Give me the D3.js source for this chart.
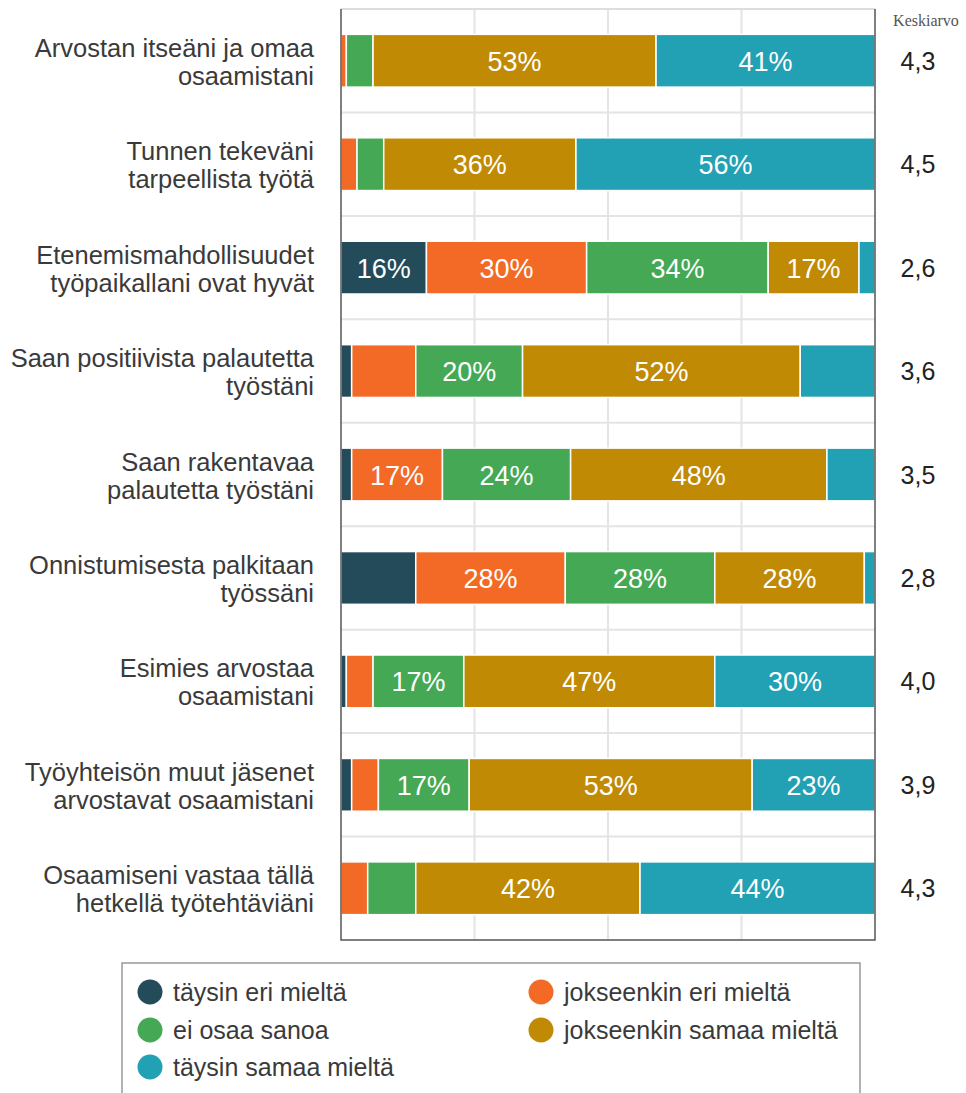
<!DOCTYPE html>
<html>
<meta charset="UTF-8">
<style>
body { margin: 0; background: #fff; }
svg { font-family: Arial, "Liberation Sans", sans-serif; }
.cat { fill: #3a3a3a; font-size: 25.5px; }
.pct { fill: #fff; font-size: 27px; }
.mean { fill: #222; font-size: 25px; }
.leg { fill: #3a3a3a; font-size: 25px; }
</style>
<body>
<svg width="966" height="1093"></svg>
<script src="https://d3js.org/d3.v7.min.js"></script>
<script>
//	data
var questions = [
	["Arvostan itseäni ja omaa", "osaamistani"],
	["Tunnen tekeväni", "tarpeellista työtä"],
	["Etenemismahdollisuudet", "työpaikallani ovat hyvät"],
	["Saan positiivista palautetta", "työstäni"],
	["Saan rakentavaa", "palautetta työstäni"],
	["Onnistumisesta palkitaan", "työssäni"],
	["Esimies arvostaa", "osaamistani"],
	["Työyhteisön muut jäsenet", "arvostavat osaamistani"],
	["Osaamiseni vastaa tällä", "hetkellä työtehtäviäni"]
];
var answers = ["täysin eri mieltä", "jokseenkin eri mieltä", "ei osaa sanoa",
	"jokseenkin samaa mieltä", "täysin samaa mieltä"];
var colors = ["#234b5a", "#f26a25", "#44a854", "#c08a04", "#22a0b4"];

var taysinEri    = [0, 0, 16, 2, 2, 14, 1, 2, 0];
var jokseenEri   = [1, 3, 30, 12, 17, 28, 5, 5, 5];
var eiOsaa       = [5, 5, 34, 20, 24, 28, 17, 17, 9];
var jokseenSamaa = [53, 36, 17, 52, 48, 28, 47, 53, 42];
var taysinSamaa  = [41, 56, 3, 14, 9, 2, 30, 23, 44];
var means = ["4,3", "4,5", "2,6", "3,6", "3,5", "2,8", "4,0", "3,9", "4,3"];
var xTicks = [25, 50, 75];

var series = [taysinEri, jokseenEri, eiOsaa, jokseenSamaa, taysinSamaa];

//	svg and sizing
var svg = d3.select("svg");
var plotLeft = 341, plotRight = 875, plotTop = 9, plotBottom = 940;

var x = d3.scaleLinear().domain([0, 100]).range([plotLeft, plotRight]);
var y = d3.scaleBand()
	.domain(d3.range(questions.length))
	.range([plotTop, plotBottom])
	.paddingInner(0.49)
	.paddingOuter(0.245);
var step = y.step();

//	grid
var grid = svg.append("g");
grid.selectAll(".vg").data(xTicks).enter().append("line")
	.attr("x1", function(d) { return x(d); })
	.attr("x2", function(d) { return x(d); })
	.attr("y1", plotTop).attr("y2", plotBottom)
	.attr("stroke", "#e4e4e4").attr("stroke-width", 2);
grid.selectAll(".hg").data(d3.range(questions.length)).enter().append("line")
	.attr("x1", plotLeft).attr("x2", plotRight)
	.attr("y1", function(d) { return plotTop + d * step; })
	.attr("y2", function(d) { return plotTop + d * step; })
	.attr("stroke", "#e4e4e4").attr("stroke-width", 2);

//	stacked segments
var rows = questions.map(function(q, i) {
	var acc = 0;
	return series.map(function(s, k) {
		var seg = { row: i, k: k, v: s[i], x0: acc, x1: acc + s[i] };
		acc += s[i];
		return seg;
	});
});

var bars = svg.append("g");
rows.forEach(function(segs) {
	var g = bars.append("g");
	g.selectAll("rect").data(segs.filter(function(d) { return d.v > 0; }))
		.enter().append("rect")
		.attr("x", function(d) { return x(d.x0); })
		.attr("width", function(d) { return x(Math.min(d.x1, 100)) - x(d.x0); })
		.attr("y", function(d) { return y(d.row); })
		.attr("height", y.bandwidth())
		.attr("fill", function(d) { return colors[d.k]; })
		.attr("stroke", "#fff").attr("stroke-width", 1.5);
	g.selectAll("text").data(segs.filter(function(d) { return d.v >= 15; }))
		.enter().append("text")
		.attr("class", "pct")
		.attr("text-anchor", "middle")
		.attr("x", function(d) { return x((d.x0 + d.x1) / 2); })
		.attr("y", function(d) { return y(d.row) + y.bandwidth() / 2 + 10; })
		.text(function(d) { return d.v + "%"; });
});

//	frame
svg.append("line").attr("x1", plotLeft).attr("x2", plotRight)
	.attr("y1", plotTop).attr("y2", plotTop)
	.attr("stroke", "#ddd").attr("stroke-width", 2);
svg.append("path")
	.attr("d", "M" + plotLeft + "," + plotTop + "V" + plotBottom + "H" + plotRight + "V" + plotTop)
	.attr("fill", "none").attr("stroke", "#555").attr("stroke-width", 1.5);

//	category labels
var cats = svg.append("g");
questions.forEach(function(q, i) {
	var cy = y(i) + y.bandwidth() / 2;
	cats.append("text").attr("class", "cat").attr("text-anchor", "end")
		.attr("x", 314).attr("y", cy - 4).text(q[0]);
	cats.append("text").attr("class", "cat").attr("text-anchor", "end")
		.attr("x", 314).attr("y", cy + 24).text(q[1]);
});

//	means
svg.append("text")
	.attr("x", 926).attr("y", 26)
	.attr("text-anchor", "middle")
	.style("font-family", "'Liberation Serif', 'Times New Roman', serif")
	.style("font-size", "16px").style("fill", "#555")
	.text("Keskiarvo");
svg.selectAll(".mean").data(means).enter().append("text")
	.attr("class", "mean")
	.attr("text-anchor", "middle")
	.attr("x", 918)
	.attr("y", function(d, i) { return y(i) + y.bandwidth() / 2 + 9; })
	.text(function(d) { return d; });

//	legend
var legend = svg.append("g");
legend.append("rect")
	.attr("x", 122).attr("y", 963).attr("width", 738).attr("height", 140)
	.attr("fill", "#fff").attr("stroke", "#999").attr("stroke-width", 1.5);
var legPos = [[150, 992], [541, 992], [150, 1030], [541, 1030], [150, 1067]];
var li = legend.selectAll(".li").data(answers).enter().append("g")
	.attr("transform", function(d, i) { return "translate(" + legPos[i][0] + "," + legPos[i][1] + ")"; });
li.append("circle").attr("r", 12.5).attr("fill", function(d, i) { return colors[i]; });
li.append("text").attr("class", "leg").attr("x", 23).attr("y", 9)
	.text(function(d) { return d; });
</script>
</body>
</html>
